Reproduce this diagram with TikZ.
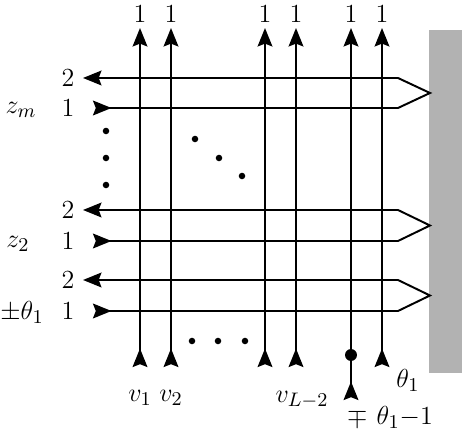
\documentclass[tikz,border=0pt]{standalone}
\usetikzlibrary{arrows.meta}
\begin{document}
\begin{tikzpicture}[x=0.46pt,y=-0.46pt,font=\fontsize{13}{15}\selectfont,
    wire/.style={line width=0.9pt,{Stealth[reversed,length=8.5pt,width=6.8pt,inset=1.3pt]}-{Stealth[length=8.5pt,width=6.8pt,inset=1.3pt]}},
    lbl/.style={inner sep=1pt},
    dot/.style={circle,fill=black,inner sep=0pt,minimum size=3pt}]
	\useasboundingbox (0,0) rectangle (462,436);
	
	% wall on the right
	\fill[black!30] (429,30) rectangle (462,373);
	
	% vertical lines
	\foreach \x/\y [count=\i] in {140/367,171/367,265/367,296/367,351/400,382/367} {
		\coordinate (bot\i) at (\x,\y);
		\coordinate (top\i) at (\x,28);
		\draw[wire] (bot\i) -- (top\i);
		\node[lbl] (out\i) at (\x,14) {$1$};
	}
	\node[dot,minimum size=5.5pt] (join) at (351,355) {};
	
	% horizontal lines, bent back at the wall
	\foreach \a/\b [count=\j] in {78/108,210/241,280/311} {
		\coordinate (in\j) at (93,\b);
		\coordinate (lo\j) at (398,\b);
		\coordinate (tip\j) at (430,{(\a+\b)/2});
		\coordinate (hi\j) at (398,\a);
		\coordinate (back\j) at (83,\a);
		\draw[wire] (in\j) -- (lo\j) -- (tip\j) -- (hi\j) -- (back\j);
		\node[lbl] (two\j) at (68,\a) {$2$};
		\node[lbl] (one\j) at (68,\b) {$1$};
	}
	
	% labels
	\node[lbl] (zm) at (21,110) {$z_m$};
	\node[lbl] (z2) at (18,244) {$z_2$};
	\node[lbl] (th) at (22,312) {$\pm\theta_1$};
	\node[lbl] (v1) at (140,398) {$v_1$};
	\node[lbl] (v2) at (171,398) {$v_2$};
	\node[lbl] (vL) at (302,400) {$v_{L-2}$};
	\node[lbl] (thr) at (408,380) {$\theta_1$};
	\node[lbl] (thb) at (390,417) {$\mp\ \theta_1{-}1$};
	
	% dots
	\foreach \p in {(106,131),(106,158),(106,185),(195,139),(219,158),(242,176),(192,341),(218,341),(245,341)}
		\fill \p circle (1.5pt);
\end{tikzpicture}
\end{document}
